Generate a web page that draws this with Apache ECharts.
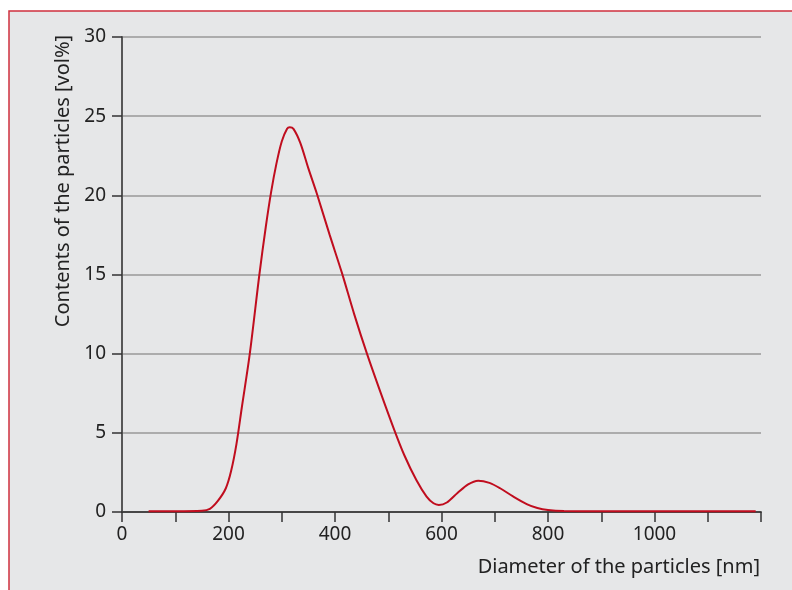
<!DOCTYPE html>
<html>
<head>
<meta charset="utf-8">
<script src="https://cdn.jsdelivr.net/npm/echarts@6/dist/echarts.min.js"></script>
<style>
  body { margin: 0; background: #fff; }
  #chart { width: 792px; height: 590px; }
</style>
</head>
<body>
<div id="chart"></div>
<script>
// particle size distribution (diameter nm, vol%)
var diameters = [50, 100, 150, 165, 180, 195, 205, 215, 225, 240, 258, 270, 280, 290, 300, 310, 315, 322, 335, 350,
  366, 390, 413, 436, 460, 485, 510, 530, 553, 572, 585, 595, 610, 630, 650, 669, 690, 710, 735, 760,
  780, 800, 830, 900, 1000, 1100, 1190];
var volumes = [0.05, 0.05, 0.08, 0.2, 0.7, 1.5, 2.6, 4.3, 6.6, 10.0, 15.0, 18.0, 20.2, 22.0, 23.4, 24.2, 24.3, 24.2, 23.3, 21.7,
  20.1, 17.5, 15.1, 12.5, 10.0, 7.6, 5.3, 3.6, 2.0, 0.97, 0.55, 0.45, 0.6, 1.2, 1.75, 1.98, 1.84, 1.5, 0.97, 0.5,
  0.25, 0.12, 0.06, 0.05, 0.05, 0.05, 0.05];

var font = 'Noto Sans';
var points = diameters.map(function (d, i) { return [d, volumes[i]]; });

var myChart = echarts.init(document.getElementById('chart'));
var option = {
  animation: false,
  backgroundColor: '#fff',
  grid: { left: 122, right: 31, top: 37, bottom: 78 },
  xAxis: [
    {
      type: 'value', min: 0, max: 1200, interval: 100,
      axisLine: { lineStyle: { color: '#333', width: 1.5 } },
      axisTick: { length: 10, lineStyle: { color: '#333', width: 1.5 } },
      axisLabel: {
        margin: 13, fontSize: 19, fontFamily: font, color: '#222',
        formatter: function (v) { return (v % 200 === 0 && v < 1200) ? String(v) : ''; }
      },
      splitLine: { show: false }
    },
    {
      type: 'value', position: 'top', min: 0, max: 1200,
      axisLine: { show: true, lineStyle: { color: '#444', width: 1.5 } },
      axisTick: { show: false }, axisLabel: { show: false }, splitLine: { show: false }
    }
  ],
  yAxis: [
    {
      type: 'value', min: 0, max: 30, interval: 5,
      axisLine: { show: true, lineStyle: { color: '#333', width: 1.5 } },
      axisTick: { show: true, length: 10, lineStyle: { color: '#333', width: 1.5 } },
      axisLabel: { margin: 16, fontSize: 19, fontFamily: font, color: '#222' },
      splitLine: { lineStyle: { color: '#999', width: 1.5 } }
    },
    {
      type: 'value', position: 'right', min: 0, max: 30,
      axisLine: { show: true, lineStyle: { color: '#555', width: 1.5 } },
      axisTick: { show: false }, axisLabel: { show: false }, splitLine: { show: false }
    }
  ],
  graphic: [
    {
      type: 'rect', z: -100, silent: true,
      shape: { x: 9, y: 11, width: 800, height: 600 },
      style: { fill: '#e6e7e8', stroke: '#d0313e', lineWidth: 1.5 }
    },
    {
      type: 'text', x: 63, y: 181, rotation: Math.PI / 2,
      style: { text: 'Contents of the particles [vol%]', font: '20px ' + font, fill: '#222',
               align: 'center', verticalAlign: 'middle' }
    },
    {
      type: 'text', x: 760, y: 567,
      style: { text: 'Diameter of the particles [nm]', font: '20px ' + font, fill: '#222',
               align: 'right', verticalAlign: 'middle' }
    }
  ],
  series: [
    {
      type: 'line', data: points, smooth: 0.3, showSymbol: false,
      lineStyle: { color: '#c00d1e', width: 2 }
    }
  ]
};
myChart.setOption(option);
</script>
</body>
</html>
